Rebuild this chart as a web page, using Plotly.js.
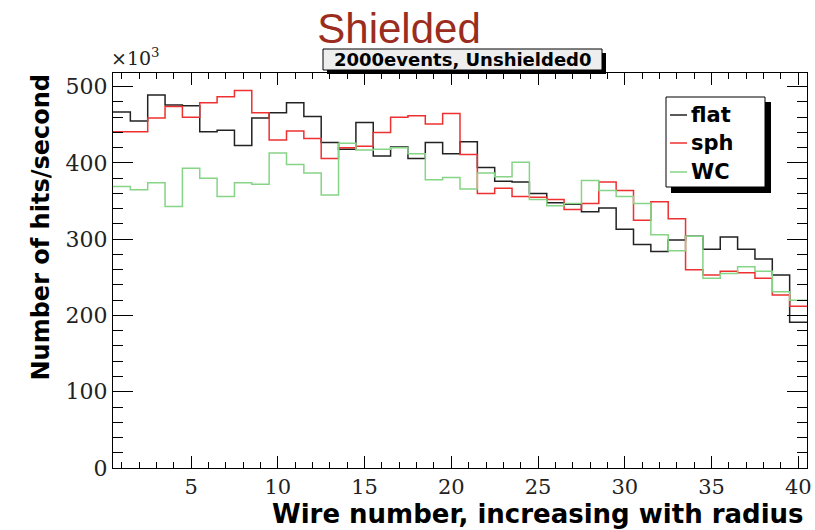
<!DOCTYPE html>
<html>
<head>
<meta charset="utf-8">
<script src="https://cdn.plot.ly/plotly-3.0.1.min.js"></script>
<style>
html,body{margin:0;padding:0;background:#fff;}
#chart{width:815px;height:530px;}
</style>
</head>
<body>
<div id="chart"></div>
<script>
// Wire numbers (bin centres)
const wires = [1,2,3,4,5,6,7,8,9,10,11,12,13,14,15,16,17,18,19,20,
               21,22,23,24,25,26,27,28,29,30,31,32,33,34,35,36,37,38,39,40];
// Hits/second in units of 10^3
const flat = [467,455,489,476,475,441,443,423,459,466,479,461,427,418,453,409,421,406,427,412,
              428,394,376,375,360,348,346,336,341,313,293,284,299,304,287,303,287,274,253,191];
const sph  = [441,441,459,474,460,479,487,495,466,430,442,432,406,420,422,440,460,462,451,465,
              411,360,367,356,355,352,339,347,375,364,325,349,327,260,253,258,256,249,227,212];
const wc   = [369,365,374,343,393,380,356,374,372,413,398,387,358,426,417,418,420,412,378,381,
              366,387,382,401,352,344,347,377,364,356,347,306,285,304,249,255,264,258,231,220];
const seriesNames = ['flat','sph','WC'];
const xTitle = 'Wire number, increasing with radius';
const yTitle = 'Number of hits/second';
const mainTitle = 'Shielded';
const subTitle = '2000events, Unshielded0';

function edges(w){ const e = w.map(v => v - 0.5); e.push(w[w.length-1] + 0.5); return e; }
function stepVals(v){ return v.concat([v[v.length-1]]); }

const colors = ['#222222','#ee3030','#86d486'];
const data = [flat, sph, wc].map((vals, i) => ({
  type:'scatter', mode:'lines', name: seriesNames[i],
  x: edges(wires), y: stepVals(vals),
  line:{shape:'hv', color: colors[i], width:1.5}
}));

// pixel -> paper helpers (plot area 113..807 x 73..468)
const L = 113, R = 807, T = 73, B = 468;
const px = v => (v - L) / (R - L);
const py = v => (B - v) / (B - T);

// legend (drawn by hand, ROOT style with drop shadow)
const legY = [115, 143, 172];
const legendShapes = [
  {type:'rect', xref:'paper', yref:'paper', x0:px(671), x1:px(771), y0:py(193), y1:py(102),
   fillcolor:'#000', line:{width:0}, layer:'above'},
  {type:'rect', xref:'paper', yref:'paper', x0:px(666), x1:px(765), y0:py(187), y1:py(97),
   fillcolor:'#fff', line:{color:'#000', width:1}, layer:'above'}
].concat(seriesNames.map((n, i) => ({
  type:'line', xref:'paper', yref:'paper', x0:px(670), x1:px(687), y0:py(legY[i]), y1:py(legY[i]),
  line:{color:colors[i], width:1.5}, layer:'above'})));
const legendTexts = seriesNames.map((n, i) => ({
  text:n, xref:'paper', yref:'paper', x:px(689), y:py(legY[i]), xanchor:'left', yanchor:'middle',
  showarrow:false, font:{family:'DejaVu Sans, sans-serif', size:21, color:'#000', weight:'bold'}}));

const layout = {
  width:815, height:530,
  margin:{l:L, r:815-R, t:T, b:530-B, pad:0},
  paper_bgcolor:'#ffffff', plot_bgcolor:'#ffffff',
  showlegend:false,
  title:{text:mainTitle, font:{family:'Liberation Sans, Arial, sans-serif', size:42, color:'#9b2d20'},
         x:399/815, xanchor:'center', xref:'container', y:1-28/530, yref:'container', yanchor:'middle'},
  xaxis:{range:[0.5,40.5], tickmode:'linear', tick0:0, dtick:5, ticks:'inside', ticklen:12, tickwidth:1,
         tickcolor:'#000', showline:true, linecolor:'#000', linewidth:1, mirror:'ticks',
         showgrid:false, zeroline:false,
         minor:{tick0:0, dtick:1, ticks:'inside', ticklen:6, tickcolor:'#000', tickwidth:1, showgrid:false},
         tickfont:{family:'DejaVu Serif, serif', size:21, color:'#222'}},
  yaxis:{range:[0,518], tickmode:'linear', tick0:0, dtick:100, ticks:'inside', ticklen:20, tickwidth:1,
         tickcolor:'#000', showline:true, linecolor:'#000', linewidth:1, mirror:'ticks',
         showgrid:false, zeroline:false,
         minor:{tick0:0, dtick:20, ticks:'inside', ticklen:10, tickcolor:'#000', tickwidth:1, showgrid:false},
         tickfont:{family:'DejaVu Serif, serif', size:22, color:'#222'}},
  shapes:[
    // subtitle box shadow + box
    {type:'rect', xref:'paper', yref:'paper', x0:px(327), x1:px(606), y0:py(74), y1:py(53),
     fillcolor:'#000', line:{width:0}, layer:'above'},
    {type:'rect', xref:'paper', yref:'paper', x0:px(323), x1:px(602), y0:py(70), y1:py(49),
     fillcolor:'#eeeeee', line:{color:'#000', width:1}, layer:'above'}
  ].concat(legendShapes),
  annotations:[
    {text:subTitle, xref:'paper', yref:'paper', x:px(462.5), y:py(59.5), xanchor:'center', yanchor:'middle',
     showarrow:false, font:{family:'DejaVu Sans, sans-serif', size:18, color:'#000', weight:'bold'}},
    {text:'×10<sup>3</sup>', xref:'paper', yref:'paper', x:px(109), y:py(71), xanchor:'left', yanchor:'bottom',
     showarrow:false, font:{family:'DejaVu Serif, serif', size:19, color:'#222'}},
    {text:xTitle, xref:'paper', yref:'paper', x:px(806), y:py(514), xanchor:'right', yanchor:'middle',
     showarrow:false, font:{family:'DejaVu Sans, sans-serif', size:26, color:'#000', weight:'bold'}},
    {text:yTitle, xref:'paper', yref:'paper', x:px(40), y:py(72), xanchor:'center', yanchor:'top',
     textangle:-90, showarrow:false,
     font:{family:'DejaVu Sans, sans-serif', size:24, color:'#000', weight:'bold'}}
  ].concat(legendTexts)
};

Plotly.newPlot('chart', data, layout, {displayModeBar:false, staticPlot:true});
</script>
</body>
</html>
